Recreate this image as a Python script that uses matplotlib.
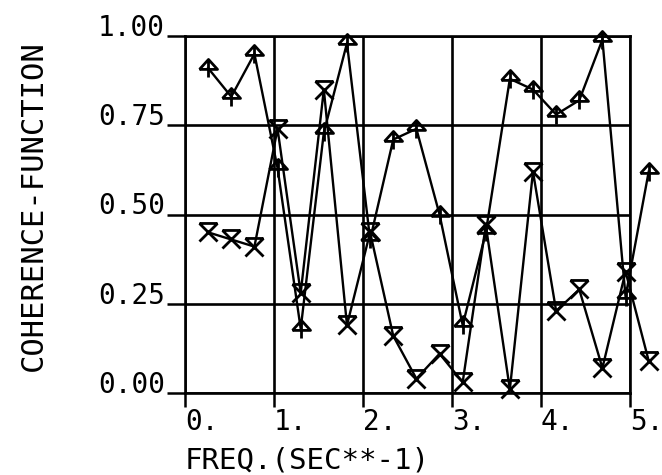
import matplotlib
matplotlib.use("Agg")
import matplotlib.pyplot as plt
from matplotlib.path import Path

# Frequencies (1/s) and coherence estimates for the two channel pairs
freq = [0.26, 0.52, 0.78, 1.04, 1.30, 1.56, 1.82, 2.08, 2.34, 2.60,
        2.86, 3.12, 3.38, 3.65, 3.91, 4.17, 4.43, 4.69, 4.95, 5.21]
coh_a = [0.91, 0.83, 0.95, 0.63, 0.18, 0.73, 0.98, 0.43, 0.71, 0.74,
         0.50, 0.19, 0.45, 0.88, 0.85, 0.78, 0.82, 0.99, 0.27, 0.62]
coh_b = [0.45, 0.43, 0.41, 0.74, 0.28, 0.85, 0.19, 0.45, 0.16, 0.04,
         0.11, 0.03, 0.47, 0.01, 0.62, 0.23, 0.29, 0.07, 0.34, 0.09]

xticks = [0, 1, 2, 3, 4, 5]
xtick_labels = ["0.", "1.", "2.", "3.", "4.", "5."]
yticks = [0.0, 0.25, 0.5, 0.75, 1.0]
ytick_labels = ["0.00", "0.25", "0.50", "0.75", "1.00"]

FONT = "DejaVu Sans Mono"

# Plotter-style symbols: an up-arrow and a barred cross
arrow_up = Path(
    [(-0.5, -0.05), (0.0, 0.5), (0.5, -0.05), (-0.5, -0.05), (0.0, 0.5), (0.0, -0.5)],
    [Path.MOVETO, Path.LINETO, Path.LINETO, Path.LINETO, Path.MOVETO, Path.LINETO],
)
barred_x = Path(
    [(-0.5, 0.5), (0.5, 0.5), (-0.5, 0.5), (0.5, -0.5), (0.5, 0.5), (-0.5, -0.5)],
    [Path.MOVETO, Path.LINETO, Path.MOVETO, Path.LINETO, Path.MOVETO, Path.LINETO],
)

fig = plt.figure(figsize=(6.62, 4.75), dpi=100)
ax = fig.add_axes([185 / 662, 82 / 475, 445 / 662, 357 / 475])

ax.plot(freq, coh_a, color="black", lw=1.7, marker=arrow_up, ms=13,
        mfc="none", mec="black", mew=2.0, clip_on=False, zorder=3)
ax.plot(freq, coh_b, color="black", lw=1.7, marker=barred_x, ms=13,
        mfc="none", mec="black", mew=2.0, clip_on=False, zorder=3)

ax.set_xlim(0, 5)
ax.set_ylim(0, 1)
ax.set_xticks(xticks)
ax.set_xticklabels(xtick_labels, ha="left", family=FONT, fontsize=20)
ax.set_yticks(yticks)
ax.set_yticklabels(ytick_labels, va="baseline", family=FONT, fontsize=20)

ax.tick_params(axis="x", direction="out", length=10, width=1.8, pad=1,
               color="black")
ax.tick_params(axis="y", direction="out", length=13, width=1.8, pad=1.5,
               color="black")

ax.grid(True, color="black", lw=1.9)
for sp in ax.spines.values():
    sp.set_linewidth(1.9)
    sp.set_color("black")

fig.text(185 / 662, 1 - 468 / 475, "FREQ.(SEC**-1)", family=FONT,
         fontsize=21, ha="left", va="baseline")
fig.text(33 / 662, 1 - 206 / 475, "COHERENCE-FUNCTION", family=FONT,
         fontsize=22, rotation=90, ha="center", va="center")

fig.savefig("out.png", dpi=100, facecolor="white")
